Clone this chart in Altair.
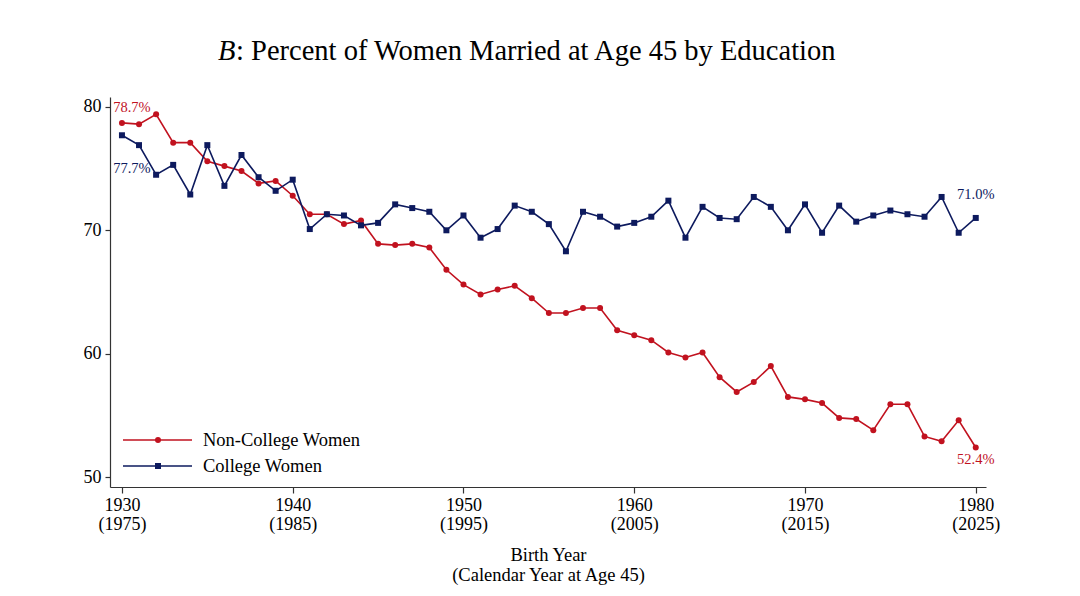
import altair as alt
import pandas as pd

years = list(range(1930, 1981))

non_college = [78.7, 78.6, 79.4, 77.1, 77.1, 75.6, 75.2, 74.8, 73.8, 74.0,
               72.8, 71.3, 71.3, 70.5, 70.8, 68.9, 68.8, 68.9, 68.6, 66.8,
               65.6, 64.8, 65.2, 65.5, 64.5, 63.3, 63.3, 63.7, 63.7, 61.9,
               61.5, 61.1, 60.1, 59.7, 60.1, 58.1, 56.9, 57.7, 59.0, 56.5,
               56.3, 56.0, 54.8, 54.7, 53.8, 55.9, 55.9, 53.3, 52.9, 54.6,
               52.4]

college = [77.7, 76.9, 74.5, 75.3, 72.9, 76.9, 73.6, 76.1, 74.3, 73.2,
           74.1, 70.1, 71.3, 71.2, 70.4, 70.6, 72.1, 71.8, 71.5, 70.0,
           71.2, 69.4, 70.1, 72.0, 71.5, 70.5, 68.3, 71.5, 71.1, 70.3,
           70.6, 71.1, 72.4, 69.4, 71.9, 71.0, 70.9, 72.7, 71.9, 70.0,
           72.1, 69.8, 72.0, 70.7, 71.2, 71.6, 71.3, 71.1, 72.7, 69.8,
           71.0]

series_names = ["Non-College Women", "College Women"]
series_colors = ["#C1121F", "#0D1A5E"]

x_ticks = [1930, 1940, 1950, 1960, 1970, 1980]
y_ticks = [50, 60, 70, 80]

ann_years = [1930, 1930, 1980, 1980]
ann_values = [78.7, 77.7, 71.0, 52.4]
ann_labels = ["78.7%", "77.7%", "71.0%", "52.4%"]
ann_series = ["Non-College Women", "College Women", "College Women", "Non-College Women"]
ann_offsets = [(10, -15), (10, 34), (0, -23), (0, 12)]

title_main = ": Percent of Women Married at Age 45 by Education"
x_title = ["Birth Year", "(Calendar Year at Age 45)"]

FONT = "Liberation Serif"

df = pd.DataFrame({
    "year": years * 2,
    "value": non_college + college,
    "series": [series_names[0]] * len(years) + [series_names[1]] * len(years),
})

color_scale = alt.Scale(domain=series_names, range=series_colors)

x_enc = alt.X(
    "year:Q",
    scale=alt.Scale(domain=[1929.3, 1980.6], nice=False, zero=False),
    axis=alt.Axis(
        values=x_ticks,
        labelExpr="[format(datum.value, 'd'), '(' + format(datum.value + 45, 'd') + ')']",
        labelLineHeight=19,
        labelPadding=3,
        tickSize=6,
        title=x_title,
        titlePadding=12,
        titleFontWeight="normal",
        titleFontSize=18.5,
        titleLineHeight=20,
    ),
)
y_enc = alt.Y(
    "value:Q",
    scale=alt.Scale(domain=[49.2, 80.8], nice=False, zero=False),
    axis=alt.Axis(values=y_ticks, title=None, tickSize=5, labelPadding=4),
)

base = alt.Chart(df).encode(x=x_enc, y=y_enc)

lines = base.mark_line(strokeWidth=1.6).encode(
    color=alt.Color("series:N", scale=color_scale, legend=None),
    detail="series:N",
)

points = base.mark_point(filled=True, opacity=1, size=36).encode(
    color=alt.Color("series:N", scale=color_scale, legend=None),
    shape=alt.Shape("series:N", scale=alt.Scale(domain=series_names, range=["circle", "square"]), legend=None),
)

layers = [lines, points]

ann_df = pd.DataFrame({"year": ann_years, "value": ann_values, "label": ann_labels, "series": ann_series})
for i, (dx, dy) in enumerate(ann_offsets):
    layers.append(
        alt.Chart(ann_df.iloc[[i]]).mark_text(
            font=FONT, fontSize=14.5, dx=dx, dy=dy, align="center", baseline="middle"
        ).encode(
            x="year:Q", y="value:Q", text="label:N",
            color=alt.Color("series:N", scale=color_scale, legend=None),
        )
    )

one = pd.DataFrame({"a": [0]})

# Title (italic panel letter + rest)
layers.append(alt.Chart(one).mark_text(
    text="B", font=FONT, fontSize=28.5, fontStyle="italic", align="left", baseline="alphabetic", color="black"
).encode(x=alt.value(108), y=alt.value(-37)))
layers.append(alt.Chart(one).mark_text(
    text=title_main, font=FONT, fontSize=28.5, align="left", baseline="alphabetic", color="black"
).encode(x=alt.value(126), y=alt.value(-37)))

# Legend (drawn inside plot area, lower left)
legend_rows = [343, 369]
for name, col, shp, ry in zip(series_names, series_colors, ["circle", "square"], legend_rows):
    layers.append(alt.Chart(one).mark_rule(color=col, strokeWidth=1.6).encode(
        x=alt.value(13), x2=alt.value(82), y=alt.value(ry)))
    layers.append(alt.Chart(one).mark_point(filled=True, opacity=1, size=36, shape=shp, color=col).encode(
        x=alt.value(48), y=alt.value(ry)))
    layers.append(alt.Chart(one).mark_text(
        text=name, font=FONT, fontSize=18.5, align="left", baseline="middle", color="black"
    ).encode(x=alt.value(93), y=alt.value(ry)))

chart = alt.layer(*layers).properties(
    width=876,
    height=390,
    padding={"left": 102, "top": 89, "right": 86, "bottom": 100},
    autosize=alt.AutoSizeParams(type="none"),
    background="white",
).configure_view(stroke=None).configure_axis(
    grid=False,
    domainColor="#333333",
    tickColor="#333333",
    domainWidth=1.2,
    tickWidth=1.2,
    labelFont=FONT,
    labelFontSize=18,
    labelColor="black",
    titleFont=FONT,
    titleColor="black",
)

chart.save("out.html", embed_options={"renderer": "svg", "actions": False})
